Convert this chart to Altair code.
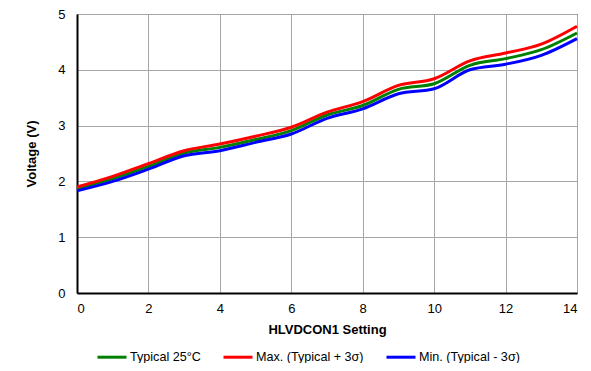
import altair as alt
import pandas as pd

settings = list(range(15))
typical = [1.87, 2.05, 2.27, 2.51, 2.61, 2.75, 2.91, 3.19, 3.36, 3.65, 3.75, 4.08, 4.20, 4.36, 4.66]
maximum = [1.90, 2.09, 2.32, 2.55, 2.67, 2.81, 2.97, 3.24, 3.43, 3.72, 3.84, 4.16, 4.30, 4.46, 4.78]
minimum = [1.83, 2.00, 2.22, 2.46, 2.55, 2.70, 2.85, 3.13, 3.30, 3.57, 3.66, 4.00, 4.10, 4.26, 4.56]

series_names = ["Typical 25°C", "Max. (Typical + 3σ)", "Min. (Typical - 3σ)"]
series_colors = ["#008000", "#ff0000", "#0000ff"]

rows = []
for i, s in enumerate(settings):
    rows.append({"s": s, "v": typical[i], "series": series_names[0], "o": 0})
    rows.append({"s": s, "v": maximum[i], "series": series_names[1], "o": 1})
    rows.append({"s": s, "v": minimum[i], "series": series_names[2], "o": 2})
df = pd.DataFrame(rows)

FONT = "Liberation Sans"

chart = alt.Chart(df).mark_line(strokeWidth=3, interpolate="monotone").encode(
    x=alt.X("s:Q", title="HLVDCON1 Setting",
            scale=alt.Scale(domain=[0, 14], nice=False),
            axis=alt.Axis(values=[0, 2, 4, 6, 8, 10, 12, 14], format="d")),
    y=alt.Y("v:Q", title="Voltage (V)",
            scale=alt.Scale(domain=[0, 5], nice=False),
            axis=alt.Axis(values=[0, 1, 2, 3, 4, 5], format="d")),
    color=alt.Color("series:N",
                    scale=alt.Scale(domain=series_names, range=series_colors),
                    legend=alt.Legend(title=None, orient="none", direction="horizontal",
                                      legendX=19, legendY=327,
                                      symbolType="stroke", symbolSize=841,
                                      symbolStrokeWidth=3, labelOffset=2,
                                      columnPadding=16, labelFont=FONT,
                                      labelFontSize=12.6, labelColor="#000000")),
    order=alt.Order("o:Q"),
    detail="series:N",
).properties(
    width=500, height=279,
    autosize=alt.AutoSizeParams(type="none"),
    padding={"left": 69, "top": 6, "right": 6, "bottom": 70},
).configure_view(
    stroke="#000000", strokeWidth=1
).configure_axis(
    labelFont=FONT, labelFontSize=13, labelColor="#000000",
    titleFont=FONT, titleFontSize=13, titleFontWeight="bold", titleColor="#000000",
    gridColor="#a6a6a6", gridWidth=1,
    domainColor="#000000", domainWidth=2,
    ticks=False,
).configure_axisX(
    labelPadding=9, titlePadding=8,
).configure_axisY(
    labelPadding=12, titlePadding=19,
)

chart.save("out.html", embed_options={"renderer": "svg", "actions": False})
